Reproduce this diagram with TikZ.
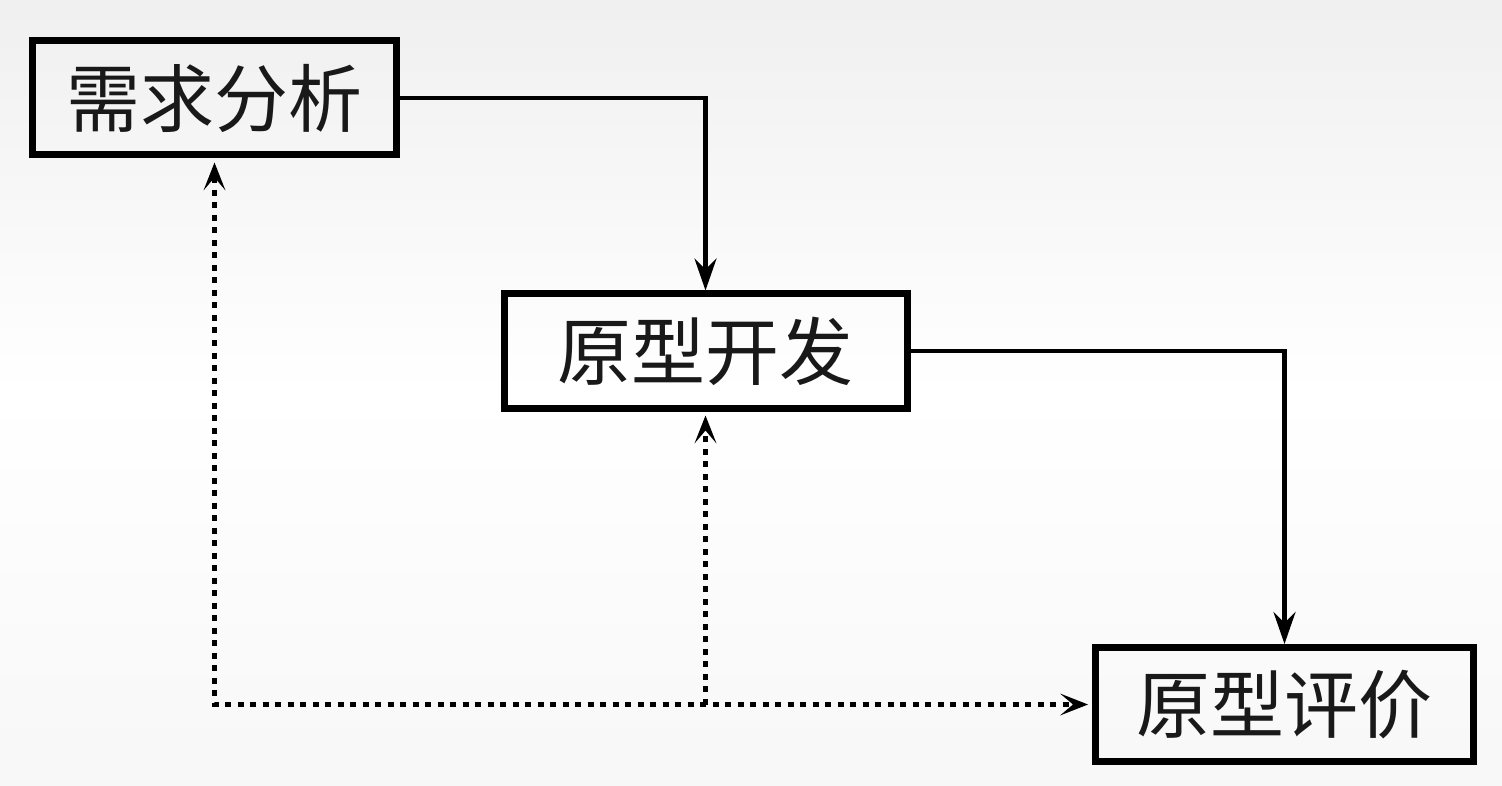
\documentclass[tikz,border=0pt]{standalone}
\usepackage{fontspec}
\newfontfamily\cjk{Noto Sans CJK SC}
\usetikzlibrary{arrows.meta}
\begin{document}
\begin{tikzpicture}[x=1pt,y=-1pt,
  stagebox/.style={draw=black,line width=7pt,inner sep=0pt,minimum height=114pt,font=\cjk\fontsize{74}{80}\selectfont,text=black!90},
  flowline/.style={draw=black,line width=4.5pt,-{Stealth[length=32pt,width=22pt,inset=11pt]}},
  backline/.style={draw=black,line width=5pt,dash pattern=on 6pt off 6.5pt},
  backtip/.tip={Stealth[length=28pt,width=22pt,inset=13pt,line width=0pt]}]
\useasboundingbox (0,0) rectangle (1502,786);
\shade[top color=gray!12,bottom color=gray!6,middle color=white] (0,0) rectangle (1502,786);
\node[stagebox,minimum width=364pt] (b1) at (214.5,98) {需求分析};
\node[stagebox,minimum width=403pt] (b2) at (705.5,351) {原型开发};
\node[stagebox,minimum width=378pt] (b3) at (1284.5,704.5) {原型评价};
\draw[flowline] (b1.east) -| (b2.north);
\draw[flowline] (b2.east) -| (b3.north);
\coordinate (c2) at (b2.south |- b3.west);
\draw[backline,backtip-backtip,shorten <=4pt,shorten >=4pt] (b1.south) |- (b3.west);
\draw[backline,-backtip,shorten >=4pt] (c2) -- (b2.south);
\end{tikzpicture}
\end{document}
